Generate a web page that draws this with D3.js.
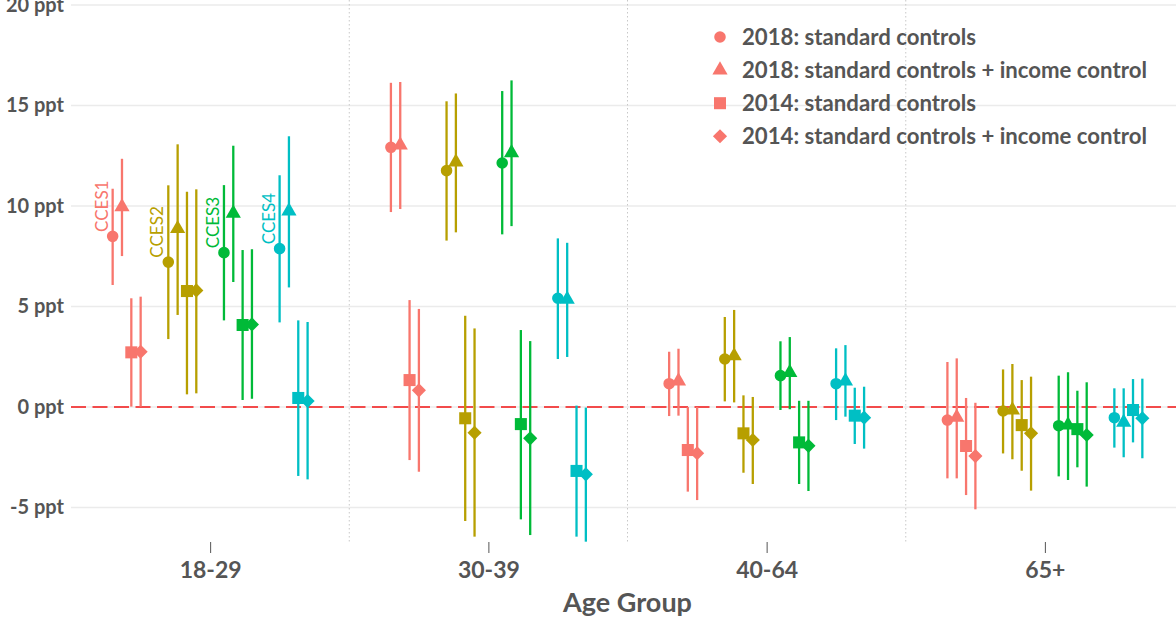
<!DOCTYPE html>
<html>
<head>
<meta charset="utf-8">
<script src="https://cdn.jsdelivr.net/npm/d3@7"></script>
<style>
  html, body { margin: 0; padding: 0; background: #fff; }
  svg { display: block; font-family: Lato, "Open Sans", sans-serif; }
</style>
</head>
<body>
<svg id="chart" width="1176" height="620"></svg>
<script>
// Age groups on the x axis
const ageGroups = ["18-29", "30-39", "40-64", "65+"];
// Survey waves, one colour each
const datasets = ["CCES1", "CCES2", "CCES3", "CCES4"];
const datasetColors = ["#F8766D", "#B79F00", "#00BA38", "#00BFC4"];
// Model specifications, one marker shape each
const specs = [
  "2018: standard controls",
  "2018: standard controls + income control",
  "2014: standard controls",
  "2014: standard controls + income control"
];
const yTicks = [-5, 0, 5, 10, 15, 20];

// Estimates (ppt): rows = age group, columns = specification
const cces1Est = [[8.49, 9.96, 2.72, 2.75], [12.92, 13.03, 1.34, 0.83], [1.16, 1.29, -2.14, -2.30], [-0.65, -0.51, -1.94, -2.44]];
const cces1Lo  = [[6.07, 7.51, 0.02, 0.02], [9.70, 9.85, -2.64, -3.22], [-0.45, -0.43, -4.21, -4.63], [-3.55, -3.55, -4.38, -5.09]];
const cces1Hi  = [[10.86, 12.35, 5.41, 5.49], [16.13, 16.17, 5.32, 4.88], [2.75, 2.90, 0.0, 0.0], [2.24, 2.42, 0.45, 0.21]];

const cces2Est = [[7.21, 8.87, 5.77, 5.80], [11.76, 12.19, -0.56, -1.28], [2.39, 2.54, -1.31, -1.64], [-0.20, -0.15, -0.90, -1.31]];
const cces2Lo  = [[3.38, 4.58, 0.63, 0.68], [8.28, 8.69, -5.67, -6.45], [0.28, 0.23, -3.27, -3.83], [-2.31, -2.60, -3.17, -4.16]];
const cces2Hi  = [[11.03, 13.07, 10.71, 10.83], [15.21, 15.60, 4.54, 3.91], [4.48, 4.83, 0.58, 0.50], [1.87, 2.14, 1.34, 1.51]];

const cces3Est = [[7.68, 9.64, 4.08, 4.11], [12.14, 12.65, -0.85, -1.56], [1.56, 1.71, -1.76, -1.93], [-0.93, -0.90, -1.10, -1.39]];
const cces3Lo  = [[4.31, 6.22, 0.35, 0.41], [8.59, 9.00, -5.59, -6.37], [-0.15, -0.11, -3.83, -4.18], [-3.45, -3.63, -3.00, -3.96]];
const cces3Hi  = [[11.04, 13.00, 7.81, 7.85], [15.72, 16.25, 3.83, 3.28], [3.27, 3.48, 0.31, 0.31], [1.56, 1.73, 0.81, 1.23]];

const cces4Est = [[7.88, 9.75, 0.45, 0.30], [5.41, 5.36, -3.18, -3.35], [1.16, 1.29, -0.43, -0.53], [-0.53, -0.76, -0.15, -0.56]];
const cces4Lo  = [[4.21, 5.95, -3.43, -3.60], [2.39, 2.49, -6.45, -6.70], [-0.65, -0.48, -1.84, -2.07], [-2.02, -2.50, -1.76, -2.55]];
const cces4Hi  = [[11.53, 13.47, 4.31, 4.23], [8.39, 8.17, 0.07, -0.03], [2.92, 3.08, 0.96, 1.01], [0.93, 0.93, 1.39, 1.41]];

const estimates = [cces1Est, cces2Est, cces3Est, cces4Est];
const lowers = [cces1Lo, cces2Lo, cces3Lo, cces4Lo];
const uppers = [cces1Hi, cces2Hi, cces3Hi, cces4Hi];

// Long-format rows for drawing
const rows = [];
datasets.forEach((ds, di) => {
  ageGroups.forEach((ag, ai) => {
    specs.forEach((sp, si) => {
      rows.push({
        dataset: ds, age: ag, spec: sp,
        est: estimates[di][ai][si], lo: lowers[di][ai][si], hi: uppers[di][ai][si]
      });
    });
  });
});

const svg = d3.select("#chart");
const panel = { left: 71, right: 1184, top: 0, bottom: 542 };

const x = d3.scalePoint().domain(ageGroups).range([panel.left, panel.right]).padding(0.5);
const step = x.step();
const xDataset = d3.scaleBand().domain(datasets).range([-0.4 * step, 0.4 * step]);
const xSpec = d3.scalePoint().domain(specs).range([-0.0503 * step, 0.0503 * step]);
const px = d => x(d.age) + xDataset(d.dataset) + xDataset.bandwidth() / 2 + xSpec(d.spec);

const y = d3.scaleLinear().domain([-6.716, 20.25]).range([panel.bottom, panel.top]);
const color = d3.scaleOrdinal().domain(datasets).range(datasetColors);

const diamond = {
  draw(ctx, size) {
    const r = Math.sqrt(size) / 2;
    ctx.moveTo(0, -r); ctx.lineTo(r, 0); ctx.lineTo(0, r); ctx.lineTo(-r, 0); ctx.closePath();
  }
};
const shapeSym = d3.scaleOrdinal().domain(specs).range([
  d3.symbol(d3.symbolCircle, 105),
  d3.symbol(d3.symbolTriangle, 100),
  d3.symbol(d3.symbolSquare, 145),
  d3.symbol(diamond, 200)
]);

// Horizontal grid
svg.append("g").selectAll("line").data(yTicks).join("line")
  .attr("x1", panel.left).attr("x2", panel.right)
  .attr("y1", d => y(d)).attr("y2", d => y(d))
  .attr("stroke", "#ebebeb").attr("stroke-width", 1.6);

// Dotted separators between age groups
const seps = ageGroups.slice(1).map((g, i) => (x(ageGroups[i]) + x(g)) / 2);
svg.append("g").selectAll("line").data(seps).join("line")
  .attr("x1", d => d).attr("x2", d => d)
  .attr("y1", panel.top).attr("y2", panel.bottom)
  .attr("stroke", "#c8c8c8").attr("stroke-width", 1)
  .attr("stroke-dasharray", "1.5,2.5");

// Zero reference line
svg.append("line")
  .attr("x1", panel.left).attr("x2", panel.right)
  .attr("y1", y(0)).attr("y2", y(0))
  .attr("stroke", "#f24b4b").attr("stroke-width", 2)
  .attr("stroke-dasharray", "15,6.5");

// Y axis labels
const yAxis = svg.append("g").attr("transform", `translate(${panel.left},0)`)
  .call(d3.axisLeft(y).tickValues(yTicks).tickFormat(d => `${d} ppt`).tickSize(0).tickPadding(7));
yAxis.select(".domain").remove();
yAxis.selectAll("text")
  .attr("font-family", "Lato").attr("font-weight", 700)
  .attr("font-size", 20).attr("fill", "#555555");

// X axis
const xAxis = svg.append("g").attr("transform", `translate(0,${panel.bottom})`)
  .call(d3.axisBottom(x).tickSize(11).tickPadding(9));
xAxis.select(".domain").remove();
xAxis.selectAll(".tick line").attr("stroke", "#555555").attr("stroke-width", 1);
xAxis.selectAll("text")
  .attr("font-family", "Lato").attr("font-weight", 700)
  .attr("font-size", 23).attr("fill", "#555555");

svg.append("text")
  .attr("x", (panel.left + panel.right) / 2 + 0).attr("y", 612)
  .attr("text-anchor", "middle")
  .attr("font-family", "Lato").attr("font-weight", 700)
  .attr("font-size", 27).attr("fill", "#555555")
  .text("Age Group");

// Error bars and point estimates
const marks = svg.append("g");
rows.forEach(d => {
  const g = marks.append("g");
  g.append("line")
    .attr("x1", px(d)).attr("x2", px(d))
    .attr("y1", y(d.lo)).attr("y2", y(d.hi))
    .attr("stroke", color(d.dataset)).attr("stroke-width", 2.3);
  g.append("path")
    .attr("d", shapeSym(d.spec)())
    .attr("transform", `translate(${px(d)},${y(d.est)})`)
    .attr("fill", color(d.dataset));
});

// Dataset labels beside the first age group
const labelRows = rows.filter(d => d.age === ageGroups[0] && d.spec === specs[0]);
svg.append("g").selectAll("text").data(labelRows).join("text")
  .attr("transform", d => `translate(${px(d) - 5},${y(d.est + 1.5)}) rotate(-90)`)
  .attr("text-anchor", "middle")
  .attr("font-family", "Lato").attr("font-size", 17)
  .attr("fill", d => color(d.dataset))
  .text(d => d.dataset);

// Legend for specifications
const legend = svg.append("g").attr("transform", "translate(720,37)");
const legendRow = legend.selectAll("g").data(specs).join("g")
  .attr("transform", (d, i) => `translate(0,${i * 33.1})`);
legendRow.append("path")
  .attr("d", d => shapeSym(d)())
  .attr("fill", datasetColors[0]);
legendRow.append("text")
  .attr("x", 22).attr("dy", "0.35em")
  .attr("font-family", "Lato").attr("font-weight", 700)
  .attr("font-size", 22.2).attr("fill", "#555555")
  .text(d => d);
</script>
</body>
</html>
